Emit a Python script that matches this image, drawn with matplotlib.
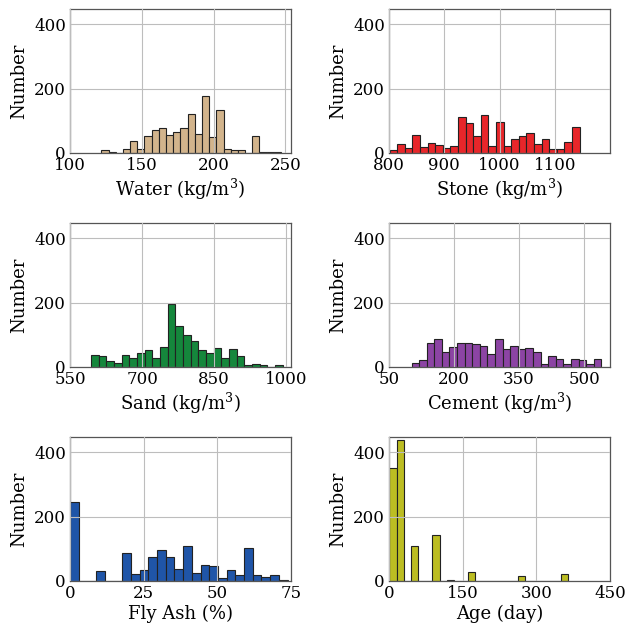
import matplotlib
matplotlib.use("Agg")
import matplotlib.pyplot as plt
import numpy as np

# histogram counts, 25 equal bins per variable
water_range = (121.8, 247.0)
water_counts = [8, 2, 0, 11, 36, 11, 54, 73, 79, 56, 65, 78, 121, 58, 177, 49, 135, 11, 8, 8, 0, 54, 2, 2, 2]

stone_range = (801.0, 1145.0)
stone_counts = [8, 27, 16, 56, 18, 30, 26, 17, 23, 113, 92, 54, 117, 21, 95, 23, 45, 52, 63, 27, 42, 11, 13, 35, 80]

sand_range = (594.0, 992.6)
sand_counts = [38, 35, 18, 12, 37, 27, 42, 52, 28, 63, 195, 127, 98, 79, 52, 42, 58, 28, 55, 33, 7, 9, 7, 0, 7]

cement_range = (102.0, 540.0)
cement_counts = [13, 21, 74, 86, 45, 61, 73, 73, 72, 66, 40, 86, 54, 66, 54, 57, 45, 9, 35, 24, 8, 23, 21, 9, 23]

flyash_range = (0.0, 73.8)
flyash_counts = [246, 0, 0, 31, 0, 0, 88, 22, 34, 74, 97, 74, 36, 109, 25, 50, 48, 10, 34, 18, 102, 18, 12, 20, 4]

age_range = (1.0, 365.0)
age_counts = [352, 439, 0, 108, 0, 0, 143, 0, 4, 0, 0, 28, 0, 0, 0, 0, 0, 0, 15, 0, 0, 0, 0, 0, 22]

panels = [
    ("Water (kg/m$^3$)", water_range, water_counts, "#d2b48c", [100, 150, 200, 250], (100, 254)),
    ("Stone (kg/m$^3$)", stone_range, stone_counts, "#e8262a", [800, 900, 1000, 1100], (800, 1200)),
    ("Sand (kg/m$^3$)", sand_range, sand_counts, "#15873c", [550, 700, 850, 1000], (550, 1010)),
    ("Cement (kg/m$^3$)", cement_range, cement_counts, "#8c44a4", [50, 200, 350, 500], (50, 560)),
    ("Fly Ash (%)", flyash_range, flyash_counts, "#1f55a8", [0, 25, 50, 75], (0, 75)),
    ("Age (day)", age_range, age_counts, "#bcbd22", [0, 150, 300, 450], (0, 450)),
]

plt.rcParams["font.family"] = "DejaVu Serif"
plt.rcParams["mathtext.fontset"] = "dejavuserif"
plt.rcParams["font.size"] = 12

fig = plt.figure(figsize=(6.28, 6.27), dpi=100)

lefts = [0.1115, 0.6194]
bottoms = [0.756, 0.4150, 0.0734]
width, height = 0.352, 0.2296

for i, (label, rng, counts, color, xticks, xlim) in enumerate(panels):
    ax = fig.add_axes([lefts[i % 2], bottoms[i // 2], width, height])
    edges = np.linspace(rng[0], rng[1], len(counts) + 1)
    ax.hist(edges[:-1], bins=edges, weights=counts, color=color,
            edgecolor="#222222", linewidth=0.8, zorder=1)
    ax.set_xlim(*xlim)
    ax.set_ylim(0, 448)
    ax.set_xticks(xticks)
    ax.set_yticks([0, 200, 400])
    ax.grid(True, color="#bdbdbd", linewidth=0.8, zorder=3)
    ax.set_axisbelow(False)
    ax.tick_params(length=0, pad=3, labelsize=12)
    for sp in ax.spines.values():
        sp.set_color("#555555")
        sp.set_linewidth(0.9)
    ax.set_xlabel(label, fontsize=13, labelpad=2)
    ax.set_ylabel("Number", fontsize=13, labelpad=4)

fig.savefig("out.png", dpi=100)
